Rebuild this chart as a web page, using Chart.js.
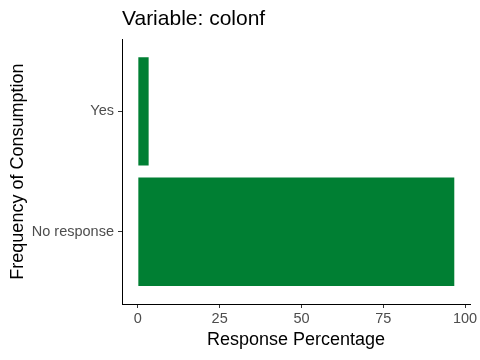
<!DOCTYPE html>
<html>
<head>
<meta charset="utf-8">
<script src="https://cdn.jsdelivr.net/npm/chart.js@4"></script>
<style>
  html, body { margin: 0; padding: 0; background: #fff; }
  #wrap { width: 480px; height: 360px; }
</style>
</head>
<body>
<div id="wrap"><canvas id="barChart" width="480" height="360"></canvas></div>
<script>
// Response shares for variable "colonf", bottom to top
const categories = ["No response", "Yes"];
const percentages = [96.7, 3.3];
const xTicks = [0, 25, 50, 75, 100];

const FONT = "'Liberation Sans', Arial, sans-serif";

// place each category at 1, 2, ... on a linear axis (ggplot-like spacing)
const points = categories.map((c, i) => ({ x: percentages[i], y: i + 1 }));

new Chart(document.getElementById("barChart"), {
    type: "bar",
    data: {
        datasets: [{
            data: points,
            backgroundColor: "#007F33",
            borderWidth: 0,
            inflateAmount: 0,
            categoryPercentage: 1,
            barPercentage: 0.9
        }]
    },
    options: {
        indexAxis: "y",
        responsive: false,
        animation: false,
        layout: { padding: { left: 0, right: 10, top: 0, bottom: 0 } },
        plugins: {
            legend: { display: false },
            tooltip: { enabled: false },
            title: {
                display: true,
                text: "Variable: colonf",
                align: "start",
                fullSize: false,
                color: "#000",
                font: { family: FONT, size: 21, weight: "normal" },
                padding: { top: 7, bottom: 7 }
            }
        },
        scales: {
            x: {
                type: "linear",
                min: -4.84,
                max: 101.5,
                afterBuildTicks: (scale) => { scale.ticks = xTicks.map(v => ({ value: v })); },
                afterFit: (scale) => { scale.height = 56; },
                border: { display: true, color: "#000", width: 1 },
                grid: { display: true, drawOnChartArea: false, color: "#333", tickLength: 4 },
                ticks: { color: "#4D4D4D", font: { family: FONT, size: 14.5 }, padding: 2 },
                title: {
                    display: true,
                    text: "Response Percentage",
                    color: "#000",
                    font: { family: FONT, size: 18 },
                    padding: { top: 0, bottom: 9 }
                }
            },
            y: {
                type: "linear",
                min: 0.4,
                max: 2.6,
                offset: false,
                afterBuildTicks: (scale) => { scale.ticks = categories.map((c, i) => ({ value: i + 1 })); },
                afterFit: (scale) => { scale.width = 122; },
                border: { display: true, color: "#000", width: 1 },
                grid: { display: true, offset: false, drawOnChartArea: false, color: "#333", tickLength: 4 },
                ticks: {
                    color: "#4D4D4D",
                    font: { family: FONT, size: 14.5 },
                    padding: 4,
                    callback: (v) => categories[v - 1]
                },
                title: {
                    display: true,
                    text: "Frequency of Consumption",
                    color: "#000",
                    font: { family: FONT, size: 18 },
                    padding: { top: 7, bottom: 0 }
                }
            }
        }
    }
});
</script>
</body>
</html>
